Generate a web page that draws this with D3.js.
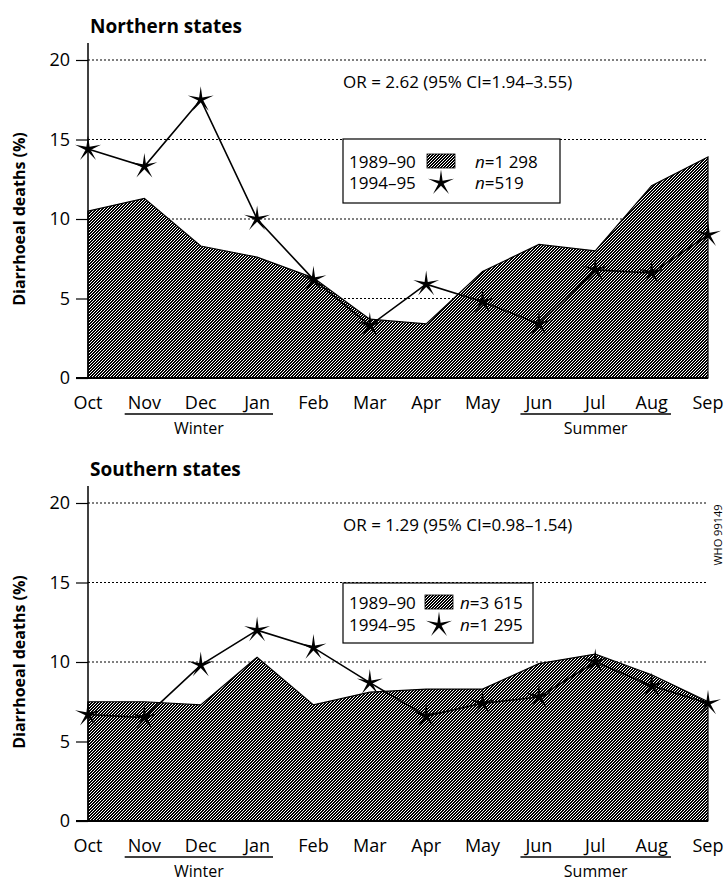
<!DOCTYPE html>
<html>
<head>
<meta charset="utf-8">
<script src="https://cdn.jsdelivr.net/npm/d3@7"></script>
<style>
  body { margin: 0; background: #fff; }
  text { font-family: "Open Sans", "DejaVu Sans", sans-serif; fill: #000; }
</style>
</head>
<body>
<script>
var months = ["Oct", "Nov", "Dec", "Jan", "Feb", "Mar", "Apr", "May", "Jun", "Jul", "Aug", "Sep"];
var yTicks = [0, 5, 10, 15, 20];

// 1989-90 (area) and 1994-95 (stars), % of diarrhoeal deaths by month
var northBefore = [10.5, 11.3, 8.3, 7.6, 6.3, 3.7, 3.4, 6.7, 8.4, 8.0, 12.1, 13.9];
var northAfter = [14.4, 13.3, 17.5, 10.0, 6.2, 3.3, 5.9, 4.8, 3.4, 6.8, 6.6, 9.0];
var southBefore = [7.5, 7.5, 7.3, 10.3, 7.3, 8.1, 8.3, 8.3, 9.9, 10.5, 9.2, 7.5];
var southAfter = [6.7, 6.5, 9.8, 12.0, 10.9, 8.7, 6.6, 7.4, 7.8, 10.0, 8.5, 7.4];

var seasons = [
  { name: "Winter", from: "Nov", to: "Jan" },
  { name: "Summer", from: "Jun", to: "Aug" }
];

var panels = [
  { title: "Northern states", top: 60, before: northBefore, after: northAfter,
    or: "OR = 2.62 (95% CI=1.94\u20133.55)", nBefore: "=1 298", nAfter: "=519",
    legend: { x: 343, y: 139, w: 217, h: 64, sw: 427, nx: 475, r1: 29, r2: 50 } },
  { title: "Southern states", top: 503, before: southBefore, after: southAfter,
    or: "OR = 1.29 (95% CI=0.98\u20131.54)", nBefore: "=3 615", nAfter: "=1 295",
    legend: { x: 343, y: 583, w: 190, h: 60, sw: 425, nx: 460, r1: 26, r2: 48 } }
];

var left = 88, right = 708, plotH = 318;

var svg = d3.select("body").append("svg")
  .attr("width", 725)
  .attr("height", 884);

// halftone fill, roughly two thirds black
var pat = svg.append("defs").append("pattern")
  .attr("id", "dots")
  .attr("patternUnits", "userSpaceOnUse")
  .attr("width", 3).attr("height", 3);
pat.append("rect").attr("width", 3).attr("height", 3).attr("fill", "#000");
[[0, 0], [2, 1], [1, 2]].forEach(function(c) {
  pat.append("rect").attr("x", c[0]).attr("y", c[1])
    .attr("width", 1).attr("height", 1).attr("fill", "#fff");
});

// thin five point star
var starType = {
  draw: function(ctx, size) {
    var R = Math.sqrt(size), r = R * 0.2;
    for (var i = 0; i < 10; i++) {
      var a = -Math.PI / 2 + i * Math.PI / 5;
      var rr = i % 2 ? r : R;
      if (i === 0) ctx.moveTo(rr * Math.cos(a), rr * Math.sin(a));
      else ctx.lineTo(rr * Math.cos(a), rr * Math.sin(a));
    }
    ctx.closePath();
  }
};
var star = d3.symbol().type(starType).size(185);

var x = d3.scalePoint().domain(months).range([left, right]);

panels.forEach(function(p) {
  var g = svg.append("g");
  var bottom = p.top + plotH;
  var y = d3.scaleLinear().domain([0, 20]).range([bottom, p.top]);

  g.append("text")
    .attr("x", 90).attr("y", p.top - 27)
    .style("font-size", "19px").style("font-weight", "bold")
    .text(p.title);

  // dotted grid
  g.selectAll(".grid")
    .data([5, 10, 15, 20])
    .enter().append("line")
    .attr("x1", left).attr("x2", right)
    .attr("y1", function(d) { return y(d); })
    .attr("y2", function(d) { return y(d); })
    .attr("stroke", "#000").attr("stroke-width", 1)
    .attr("stroke-dasharray", "2,2");

  g.append("text")
    .attr("x", 343).attr("y", p.top + 28)
    .style("font-size", "17px")
    .text(p.or);

  var area = d3.area()
    .x(function(d, i) { return x(months[i]); })
    .y0(y(0))
    .y1(function(d) { return y(d); });

  g.append("path")
    .datum(p.before)
    .attr("d", area)
    .attr("fill", "url(#dots)")
    .attr("stroke", "#000")
    .attr("stroke-width", 1.2);

  // axes
  var leftAxis = d3.axisLeft(y).tickValues(yTicks).tickSize(12).tickPadding(6);
  var ax = g.append("g").attr("transform", "translate(" + left + ",0)").call(leftAxis);
  ax.select(".domain").remove();
  ax.selectAll("line").attr("stroke", "#000").attr("stroke-width", 1.2);
  ax.selectAll("text").style("font-size", "18px").attr("font-family", null);

  g.append("line")
    .attr("x1", left).attr("x2", left)
    .attr("y1", p.top - 17).attr("y2", bottom)
    .attr("stroke", "#000").attr("stroke-width", 1.5);
  g.append("line")
    .attr("x1", left - 12).attr("x2", right)
    .attr("y1", bottom).attr("y2", bottom)
    .attr("stroke", "#000").attr("stroke-width", 2);

  g.append("text")
    .attr("transform", "translate(25," + (p.top + plotH / 2) + ") rotate(-90)")
    .attr("text-anchor", "middle")
    .style("font-size", "16px").style("font-weight", "bold")
    .text("Diarrhoeal deaths (%)");

  var labels = g.selectAll(".month")
    .data(months)
    .enter().append("text")
    .attr("x", function(d) { return x(d); })
    .attr("y", bottom + 31)
    .attr("text-anchor", "middle")
    .style("font-size", "18px")
    .text(function(d) { return d; });

  seasons.forEach(function(s) {
    var a = labels.filter(function(d) { return d === s.from; }).node().getBBox();
    var b = labels.filter(function(d) { return d === s.to; }).node().getBBox();
    var x0 = a.x - 3, x1 = b.x + b.width + 3;
    g.append("line")
      .attr("x1", x0).attr("x2", x1)
      .attr("y1", bottom + 36).attr("y2", bottom + 36)
      .attr("stroke", "#000").attr("stroke-width", 1.5);
    g.append("text")
      .attr("x", (x0 + x1) / 2).attr("y", bottom + 56)
      .attr("text-anchor", "middle")
      .style("font-size", "16px")
      .text(s.name);
  });

  // 1994-95 line with stars
  var line = d3.line()
    .x(function(d, i) { return x(months[i]); })
    .y(function(d) { return y(d); });
  g.append("path")
    .datum(p.after)
    .attr("d", line)
    .attr("fill", "none")
    .attr("stroke", "#000")
    .attr("stroke-width", 1.6);
  g.selectAll(".star")
    .data(p.after)
    .enter().append("path")
    .attr("transform", function(d, i) { return "translate(" + x(months[i]) + "," + y(d) + ")"; })
    .attr("d", star)
    .attr("fill", "#000");

  // legend
  var L = p.legend;
  g.append("rect")
    .attr("x", L.x).attr("y", L.y).attr("width", L.w).attr("height", L.h)
    .attr("fill", "#fff").attr("stroke", "#000").attr("stroke-width", 1.2);
  g.append("text").attr("x", L.x + 6).attr("y", L.y + L.r1).style("font-size", "17px").text("1989\u201390");
  g.append("text").attr("x", L.x + 6).attr("y", L.y + L.r2).style("font-size", "17px").text("1994\u201395");
  g.append("rect")
    .attr("x", L.sw).attr("y", L.y + L.r1 - 14).attr("width", 28).attr("height", 14)
    .attr("fill", "url(#dots)").attr("stroke", "#000").attr("stroke-width", 0.8);
  g.append("path")
    .attr("transform", "translate(" + (L.sw + 14) + "," + (L.y + L.r2 - 6) + ")")
    .attr("d", star).attr("fill", "#000");
  [[L.r1, p.nBefore], [L.r2, p.nAfter]].forEach(function(r) {
    var t = g.append("text").attr("x", L.nx).attr("y", L.y + r[0]).style("font-size", "17px");
    t.append("tspan").style("font-style", "italic").text("n");
    t.append("tspan").text(r[1]);
  });
});

svg.append("text")
  .attr("transform", "translate(722,535) rotate(-90)")
  .attr("text-anchor", "middle")
  .style("font-size", "11px")
  .text("WHO 99149");
</script>
</body>
</html>
